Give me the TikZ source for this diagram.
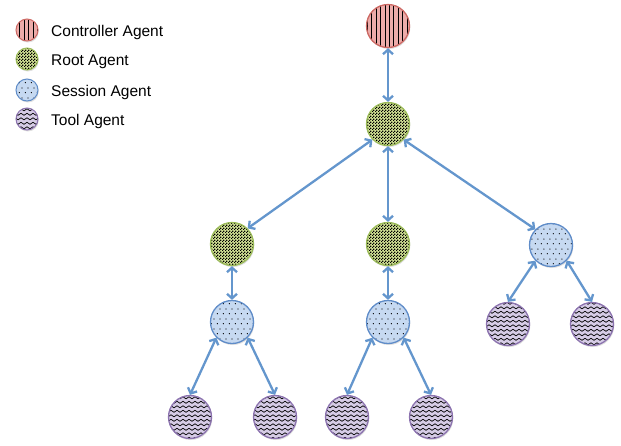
\documentclass[tikz,border=0pt]{standalone}
\usepackage{fontspec}
\setmainfont{Liberation Sans}
\usetikzlibrary{patterns,shadows,arrows.meta}

\definecolor{ctrlfill}{RGB}{236,172,170}
\definecolor{ctrlline}{RGB}{205,105,100}
\definecolor{rootfill}{RGB}{212,228,150}
\definecolor{rootline}{RGB}{155,187,89}
\definecolor{sessfill}{RGB}{198,217,241}
\definecolor{sessline}{RGB}{95,140,200}
\definecolor{toolfill}{RGB}{214,204,230}
\definecolor{toolline}{RGB}{140,115,175}
\definecolor{linkblue}{RGB}{100,150,205}

% 图案
\pgfdeclarepatternformonly{agentstripes}{\pgfqpoint{0pt}{-1pt}}{\pgfqpoint{4.4pt}{5pt}}{\pgfqpoint{4.4pt}{4pt}}{%
  \pgfsetlinewidth{0.9pt}%
  \pgfpathmoveto{\pgfqpoint{2.2pt}{-1pt}}\pgfpathlineto{\pgfqpoint{2.2pt}{5pt}}\pgfusepath{stroke}}
\pgfdeclarepatternformonly{agentchecker}{\pgfqpoint{0pt}{0pt}}{\pgfqpoint{3pt}{3pt}}{\pgfqpoint{3pt}{3pt}}{%
  \pgfpathrectangle{\pgfqpoint{0pt}{0pt}}{\pgfqpoint{1.5pt}{1.5pt}}%
  \pgfpathrectangle{\pgfqpoint{1.5pt}{1.5pt}}{\pgfqpoint{1.5pt}{1.5pt}}\pgfusepath{fill}}
\pgfdeclarepatternformonly{agentdots}{\pgfqpoint{0pt}{0pt}}{\pgfqpoint{6pt}{10pt}}{\pgfqpoint{6pt}{10pt}}{%
  \pgfpathcircle{\pgfqpoint{1.5pt}{2.5pt}}{0.7pt}%
  \pgfpathcircle{\pgfqpoint{4.5pt}{7.5pt}}{0.7pt}\pgfusepath{fill}}
\pgfdeclarepatternformonly{agentwaves}{\pgfqpoint{-0.5pt}{0pt}}{\pgfqpoint{6.5pt}{4.5pt}}{\pgfqpoint{6pt}{4.5pt}}{%
  \pgfsetlinewidth{0.65pt}%
  \pgfpathmoveto{\pgfqpoint{0pt}{1.2pt}}%
  \pgfpathcurveto{\pgfqpoint{1pt}{1.2pt}}{\pgfqpoint{2pt}{3.2pt}}{\pgfqpoint{3pt}{3.2pt}}%
  \pgfpathcurveto{\pgfqpoint{4pt}{3.2pt}}{\pgfqpoint{5pt}{1.2pt}}{\pgfqpoint{6pt}{1.2pt}}%
  \pgfusepath{stroke}}

\begin{document}
\begin{tikzpicture}[
    x=1pt, y=-1pt,
    agent/.style={circle, minimum size=43pt, inner sep=0pt, line width=1.3pt,
      drop shadow={opacity=0.25, shadow xshift=0.8pt, shadow yshift=-1.5pt}},
    small/.style={minimum size=22pt, line width=1pt},
    ctrl/.style={agent, draw=ctrlline, preaction={fill=ctrlfill}, pattern=agentstripes},
    rootag/.style={agent, draw=rootline, preaction={fill=rootfill}, pattern=agentchecker},
    sess/.style={agent, draw=sessline, preaction={fill=sessfill}, pattern=agentdots},
    tool/.style={agent, draw=toolline, preaction={fill=toolfill}, pattern=agentwaves},
    legtext/.style={anchor=base west, inner sep=0pt, font=\fontsize{15.5}{18}\selectfont},
    link/.style={draw=linkblue, line width=2.3pt, <->, >={Straight Barb[length=4.5pt, width=10pt]}}
]
  \useasboundingbox (0,0) rectangle (621,445);

  % 图例
  \node[ctrl, small] (lc) at (27,30) {};
  \node[rootag, small] (lr) at (27,59) {};
  \node[sess, small] (ls) at (27,90) {};
  \node[tool, small] (lt) at (27,119) {};
  \node[legtext] (lctext) at (51,36) {Controller Agent};
  \node[legtext] (lrtext) at (51,65) {Root Agent};
  \node[legtext] (lstext) at (51,96) {Session Agent};
  \node[legtext] (lttext) at (51,125) {Tool Agent};

  % 定义顶点位置
  \node[ctrl] (ctrl) at (388,26) {};
  \node[rootag] (root) at (388,124) {};
  \node[rootag] (rootL) at (232,244) {};
  \node[rootag] (rootM) at (388,244) {};
  \node[sess] (sessR) at (551,245) {};
  \node[sess] (sessL) at (232,322) {};
  \node[sess] (sessM) at (388,322) {};
  \node[tool] (toolE) at (508,324) {};
  \node[tool] (toolF) at (592,324) {};
  \node[tool] (toolA) at (190,417) {};
  \node[tool] (toolB) at (275,417) {};
  \node[tool] (toolC) at (347,417) {};
  \node[tool] (toolD) at (431,417) {};

  % 绘制双向箭头
  \draw[link] (ctrl.south) -- (root.north);
  \draw[link] (root.south west) -- (rootL.north east);
  \draw[link] (root.south) -- (rootM.north);
  \draw[link] (root.south east) -- (sessR.north west);
  \draw[link] (rootL.south) -- (sessL.north);
  \draw[link] (rootM.south) -- (sessM.north);
  \draw[link] (sessL.south west) -- (toolA.north);
  \draw[link] (sessL.south east) -- (toolB.north);
  \draw[link] (sessM.south west) -- (toolC.north);
  \draw[link] (sessM.south east) -- (toolD.north);
  \draw[link] (sessR.south west) -- (toolE.north);
  \draw[link] (sessR.south east) -- (toolF.north);
\end{tikzpicture}
\end{document}
